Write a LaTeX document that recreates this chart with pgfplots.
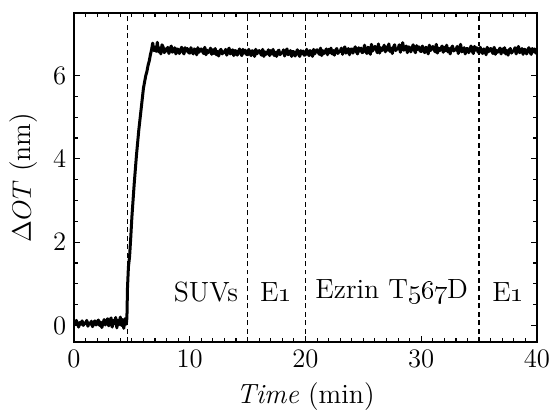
\documentclass[border=0pt]{standalone}
\usepackage{pgfplots}
\pgfplotsset{compat=1.18}

\begin{document}
\begin{tikzpicture}
\begin{axis}[
    name=main,
    scale only axis,
    width=208.3pt, height=148pt,
    xmin=0, xmax=40,
    ymin=-0.4, ymax=7.5,
    xtick={0,10,20,30,40},
    ytick={0,2,4,6},
    minor x tick num=9,
    minor y tick num=3,
    tick align=inside,
    major tick length=2.8pt,
    minor tick length=1.7pt,
    tick style={black, line width=0.5pt},
    axis line style={line width=0.7pt},
    ticklabel style={font=\fontsize{12}{14}\selectfont},
    label style={font=\fontsize{12.5}{15}\selectfont},
    xlabel={\textit{Time} (min)},
    ylabel={$\Delta OT$ (nm)},
    clip=true,
]
% dashed markers for injections
\addplot[black, dash pattern=on 2.2pt off 1.6pt, line width=0.6pt] coordinates {(4.6,-0.4) (4.6,7.5)};
\addplot[black, dash pattern=on 2.2pt off 1.6pt, line width=0.6pt] coordinates {(15,-0.4) (15,7.5)};
\addplot[black, dash pattern=on 2.2pt off 1.6pt, line width=0.6pt] coordinates {(20,-0.4) (20,7.5)};
\addplot[black, dash pattern=on 2.2pt off 1.6pt, line width=0.6pt] coordinates {(35,-0.4) (35,7.5)};

% measured signal
\addplot[black, line width=1.35pt, line join=round] table {
x y
0.0 0.08
0.1 0.02
0.2 0.12
0.3 0.05
0.4 -0.04
0.5 0.07
0.6 0.03
0.7 0.11
0.8 0.00
0.9 0.06
1.0 0.04
1.1 0.12
1.2 -0.02
1.3 0.06
1.4 0.03
1.5 0.10
1.6 -0.03
1.7 0.05
1.8 0.11
1.9 0.01
2.0 0.06
2.1 0.13
2.2 0.00
2.3 0.08
2.4 -0.05
2.5 0.04
2.6 0.14
2.7 0.01
2.8 0.10
2.9 0.16
3.0 -0.01
3.1 0.08
3.2 0.18
3.3 -0.04
3.4 0.12
3.5 0.04
3.6 0.19
3.7 -0.06
3.8 0.12
3.9 0.02
4.0 0.20
4.1 0.00
4.2 0.14
4.3 -0.07
4.4 0.16
4.5 0.03
4.55 0.10
4.58 0.30
4.62 0.90
4.70 1.40
4.80 1.65
4.90 2.10
5.00 2.60
5.10 3.00
5.20 3.40
5.30 3.75
5.40 4.10
5.50 4.40
5.60 4.70
5.70 4.95
5.80 5.20
5.90 5.45
6.00 5.70
6.10 5.85
6.20 6.00
6.30 6.10
6.40 6.25
6.50 6.35
6.60 6.50
6.70 6.62
6.80 6.78
6.90 6.60
7.0 6.68
7.1 6.58
7.2 6.80
7.3 6.57
7.4 6.66
7.5 6.52
7.6 6.74
7.7 6.69
7.8 6.55
7.9 6.64
8.0 6.59
8.1 6.68
8.2 6.53
8.3 6.64
8.4 6.71
8.5 6.56
8.6 6.60
8.7 6.67
8.8 6.52
8.9 6.64
9.0 6.63
9.1 6.53
9.2 6.62
9.3 6.68
9.4 6.57
9.5 6.52
9.6 6.67
9.7 6.59
9.8 6.65
9.9 6.55
10.0 6.54
10.1 6.67
10.2 6.58
10.3 6.52
10.4 6.64
10.5 6.61
10.6 6.50
10.7 6.67
10.8 6.56
10.9 6.62
11.0 6.64
11.1 6.58
11.2 6.53
11.3 6.68
11.4 6.50
11.5 6.61
11.6 6.55
11.7 6.59
11.8 6.66
11.9 6.51
12.0 6.62
12.1 6.53
12.2 6.65
12.3 6.50
12.4 6.58
12.5 6.47
12.6 6.60
12.7 6.63
12.8 6.52
12.9 6.57
13.0 6.55
13.1 6.63
13.2 6.49
13.3 6.60
13.4 6.66
13.5 6.52
13.6 6.56
13.7 6.62
13.8 6.48
13.9 6.60
14.0 6.59
14.1 6.49
14.2 6.57
14.3 6.64
14.4 6.53
14.5 6.48
14.6 6.63
14.7 6.54
14.8 6.61
14.9 6.51
15.0 6.50
15.1 6.63
15.2 6.53
15.3 6.48
15.4 6.60
15.5 6.57
15.6 6.46
15.7 6.63
15.8 6.52
15.9 6.58
16.0 6.60
16.1 6.54
16.2 6.49
16.3 6.63
16.4 6.46
16.5 6.57
16.6 6.51
16.7 6.55
16.8 6.62
16.9 6.48
17.0 6.60
17.1 6.52
17.2 6.63
17.3 6.48
17.4 6.56
17.5 6.46
17.6 6.58
17.7 6.61
17.8 6.50
17.9 6.55
18.0 6.54
18.1 6.62
18.2 6.47
18.3 6.58
18.4 6.64
18.5 6.50
18.6 6.54
18.7 6.60
18.8 6.46
18.9 6.58
19.0 6.57
19.1 6.47
19.2 6.55
19.3 6.62
19.4 6.51
19.5 6.46
19.6 6.60
19.7 6.52
19.8 6.59
19.9 6.49
20.0 6.50
20.1 6.63
20.2 6.54
20.3 6.48
20.4 6.60
20.5 6.57
20.6 6.46
20.7 6.63
20.8 6.52
20.9 6.59
21.0 6.62
21.1 6.56
21.2 6.51
21.3 6.66
21.4 6.48
21.5 6.60
21.6 6.53
21.7 6.58
21.8 6.64
21.9 6.50
22.0 6.63
22.1 6.55
22.2 6.66
22.3 6.52
22.4 6.60
22.5 6.49
22.6 6.61
22.7 6.65
22.8 6.53
22.9 6.58
23.0 6.58
23.1 6.66
23.2 6.51
23.3 6.63
23.4 6.69
23.5 6.54
23.6 6.58
23.7 6.65
23.8 6.50
23.9 6.63
24.0 6.64
24.1 6.54
24.2 6.62
24.3 6.69
24.4 6.57
24.5 6.52
24.6 6.67
24.7 6.59
24.8 6.66
24.9 6.55
25.0 6.57
25.1 6.73
25.2 6.61
25.3 6.53
25.4 6.68
25.5 6.64
25.6 6.51
25.7 6.75
25.8 6.59
25.9 6.66
26.0 6.70
26.1 6.63
26.2 6.55
26.3 6.76
26.4 6.54
26.5 6.67
26.6 6.60
26.7 6.65
26.8 6.73
26.9 6.57
27.0 6.69
27.1 6.61
27.2 6.76
27.3 6.58
27.4 6.66
27.5 6.53
27.6 6.68
27.7 6.74
27.8 6.60
27.9 6.65
28.0 6.64
28.1 6.74
28.2 6.56
28.3 6.69
28.4 6.79
28.5 6.61
28.6 6.64
28.7 6.71
28.8 6.55
28.9 6.69
29.0 6.67
29.1 6.57
29.2 6.66
29.3 6.74
29.4 6.61
29.5 6.55
29.6 6.72
29.7 6.63
29.8 6.69
29.9 6.59
30.0 6.58
30.1 6.71
30.2 6.61
30.3 6.55
30.4 6.68
30.5 6.65
30.6 6.52
30.7 6.73
30.8 6.60
30.9 6.66
31.0 6.70
31.1 6.63
31.2 6.57
31.3 6.75
31.4 6.54
31.5 6.66
31.6 6.60
31.7 6.65
31.8 6.71
31.9 6.56
32.0 6.68
32.1 6.60
32.2 6.73
32.3 6.57
32.4 6.65
32.5 6.52
32.6 6.66
32.7 6.71
32.8 6.59
32.9 6.63
33.0 6.61
33.1 6.70
33.2 6.53
33.3 6.65
33.4 6.75
33.5 6.57
33.6 6.61
33.7 6.67
33.8 6.52
33.9 6.65
34.0 6.65
34.1 6.55
34.2 6.63
34.3 6.71
34.4 6.59
34.5 6.53
34.6 6.70
34.7 6.61
34.8 6.67
34.9 6.57
35.0 6.55
35.1 6.68
35.2 6.58
35.3 6.53
35.4 6.64
35.5 6.61
35.6 6.50
35.7 6.68
35.8 6.57
35.9 6.63
36.0 6.65
36.1 6.58
36.2 6.53
36.3 6.68
36.4 6.51
36.5 6.61
36.6 6.56
36.7 6.60
36.8 6.66
36.9 6.52
37.0 6.64
37.1 6.56
37.2 6.67
37.3 6.52
37.4 6.60
37.5 6.49
37.6 6.62
37.7 6.65
37.8 6.54
37.9 6.59
38.0 6.59
38.1 6.67
38.2 6.52
38.3 6.63
38.4 6.70
38.5 6.55
38.6 6.59
38.7 6.65
38.8 6.51
38.9 6.63
39.0 6.62
39.1 6.52
39.2 6.60
39.3 6.67
39.4 6.56
39.5 6.51
39.6 6.65
39.7 6.57
39.8 6.64
39.9 6.54
40.0 6.60
};

% phase labels
\node[font=\fontsize{12.5}{15}\selectfont] at (axis cs:11.4,0.8) {SUVs};
\node[font=\fontsize{12.5}{15}\selectfont] at (axis cs:17.45,0.8) {E\oldstylenums{1}};
\node[font=\fontsize{12.5}{15}\selectfont] at (axis cs:27.45,0.8) {Ezrin T\oldstylenums{567}D};
\node[font=\fontsize{12.5}{15}\selectfont] at (axis cs:37.5,0.8) {E\oldstylenums{1}};
\end{axis}
\pgfresetboundingbox
\path[use as bounding box] ([shift={(-33.3pt,-30.6pt)}]main.south west) rectangle ++(247pt,184.5pt);
\end{tikzpicture}
\end{document}
